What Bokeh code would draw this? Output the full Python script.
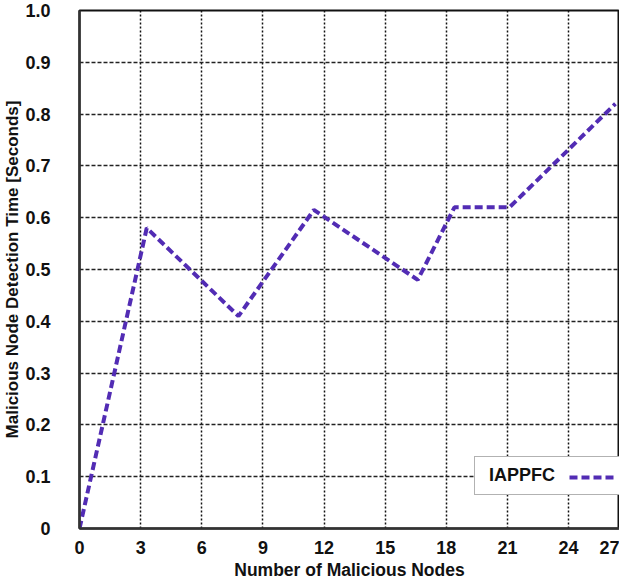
from bokeh.plotting import figure
from bokeh.models import Range1d, FixedTicker, Legend, LegendItem
from bokeh.embed import file_html
from bokeh.resources import INLINE

# ---- data ----
nodes = [0, 3.3, 7.8, 11.5, 16.6, 18.4, 21.1, 26.3]
detection_time = [0.0, 0.58, 0.41, 0.615, 0.48, 0.62, 0.62, 0.82]
series_name = "IAPPFC"

x_tick_labels = ["0", "3", "6", "9", "12", "15", "18", "21", "24", "27"]
x_tick_values = [0, 3, 6, 9, 12, 15, 18, 21, 24, 27]
y_tick_values = [0, 0.1, 0.2, 0.3, 0.4, 0.5, 0.6, 0.7, 0.8, 0.9, 1.0]
y_tick_labels = ["0", "0.1", "0.2", "0.3", "0.4", "0.5", "0.6", "0.7", "0.8", "0.9", "1.0"]

X_END = 26.5  # visible end of the x axis in the reference (last tick label sits on the border)

FONT = "Liberation Sans"
LINE_COLOR = "#522cb4"

p = figure(frame_width=540, frame_height=518, output_backend="svg", toolbar_location=None,
           x_range=Range1d(0, X_END), y_range=Range1d(0, 1.0),
           min_border_left=70, min_border_right=0, min_border_top=10, min_border_bottom=40)

x_ticks = x_tick_values[:-1] + [X_END]
p.xaxis.ticker = FixedTicker(ticks=x_ticks)
p.xaxis.major_label_overrides = {t: l for t, l in zip(x_ticks, x_tick_labels)}
p.yaxis.ticker = FixedTicker(ticks=y_tick_values)
p.yaxis.major_label_overrides = {t: l for t, l in zip(y_tick_values, y_tick_labels)}

for ax in (p.xaxis, p.yaxis):
    ax.major_tick_line_color = None
    ax.minor_tick_line_color = None
    ax.major_label_text_font = FONT
    ax.major_label_text_font_style = "bold"
    ax.major_label_text_font_size = "18px"
    ax.major_label_text_color = "#111111"
    ax.axis_label_text_font = FONT
    ax.axis_label_text_font_style = "bold"
    ax.axis_label_text_color = "#111111"
    ax.axis_line_color = "#333333"
    ax.axis_line_width = 2.5

p.xaxis.axis_label = "Number of Malicious Nodes"
p.xaxis.axis_label_text_font_size = "17.5px"
p.xaxis.major_label_standoff = 6
p.xaxis.axis_label_standoff = 3
p.yaxis.axis_label = "Malicious Node Detection Time [Seconds]"
p.yaxis.axis_label_text_font_size = "17px"
p.yaxis.major_label_standoff = 23
p.yaxis.axis_label_standoff = 0

p.outline_line_color = "#111111"
p.outline_line_width = 2
p.outline_line_alpha = 1

p.xgrid.grid_line_color = "#111111"
p.xgrid.grid_line_width = 1.5
p.xgrid.grid_line_dash = "2 2"
p.ygrid.grid_line_color = "#222222"
p.ygrid.grid_line_width = 1.5
p.ygrid.grid_line_dash = "4 2"

r = p.line(nodes, detection_time, line_color=LINE_COLOR, line_width=4, line_dash="8 4")
dummy = p.line(nodes, detection_time, line_alpha=0)

# legend box with label (label left, glyph right as in the reference)
leg_box = Legend(items=[LegendItem(label=series_name, renderers=[dummy])],
                 location=(395, 33), margin=0, padding=8, spacing=0,
                 glyph_width=1, glyph_height=20, label_standoff=5, label_width=123, label_height=20,
                 label_text_font=FONT, label_text_font_style="bold", label_text_font_size="18px",
                 label_text_color="#111111",
                 border_line_color="#666666", border_line_width=1.5,
                 background_fill_color="white", background_fill_alpha=1)
p.add_layout(leg_box)

leg_glyph = Legend(items=[LegendItem(label=" ", renderers=[r])],
                   location=(490, 41), margin=0, padding=0, spacing=0,
                   glyph_width=46, glyph_height=20, label_standoff=0, label_width=1, label_height=20,
                   label_text_font_size="1px",
                   border_line_alpha=0, background_fill_alpha=0)
p.add_layout(leg_glyph)

open("out.html", "w").write(file_html(p, INLINE))
